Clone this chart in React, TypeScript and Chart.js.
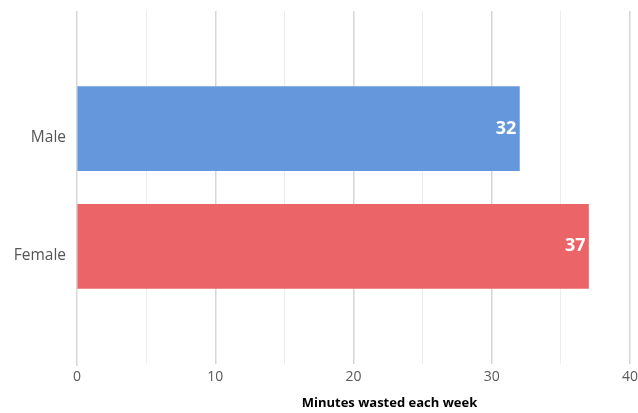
import React, { useEffect, useRef } from "react";
import { Chart, registerables } from "chart.js";

Chart.register(...registerables);

const categories = ["", "Male", "Female", ""];
const minutes = [null, 32, 37, null];
const barColors = ["#6497db", "#6497db", "#eb6568", "#eb6568"];
const xTicks = [0, 10, 20, 30, 40];
const axisTitle = "Minutes wasted each week";

const valueLabels = {
  id: "valueLabels",
  afterDatasetsDraw(chart: any) {
    const ctx = chart.ctx;
    const meta = chart.getDatasetMeta(0);
    ctx.save();
    ctx.font = "bold 18px 'Open Sans'";
    ctx.fillStyle = "#ffffff";
    ctx.textAlign = "right";
    ctx.textBaseline = "middle";
    meta.data.forEach((el: any, i: number) => {
      const v = minutes[i];
      if (v == null) return;
      ctx.fillText(String(v), el.x - 3, el.y);
    });
    ctx.restore();
  },
};

const bottomTitle = {
  id: "bottomTitle",
  afterDraw(chart: any) {
    const ctx = chart.ctx;
    const x = chart.scales.x;
    ctx.save();
    ctx.font = "bold 13px 'Open Sans'";
    ctx.fillStyle = "#000000";
    ctx.textAlign = "center";
    ctx.textBaseline = "middle";
    const cx = x.getPixelForValue(22.6);
    ctx.fillText(axisTitle, cx, chart.chartArea.bottom + 39);
    ctx.restore();
  },
};

export default function App() {
  const ref = useRef<HTMLCanvasElement>(null);
  useEffect(() => {
    const chart = new Chart(ref.current!, {
      type: "bar",
      data: {
        labels: categories,
        datasets: [
          {
            data: minutes,
            backgroundColor: barColors,
            barThickness: 84,
          },
        ],
      },
      options: {
        indexAxis: "y",
        animation: false,
        responsive: true,
        maintainAspectRatio: false,
        layout: { padding: { top: 11, right: 8, left: 0, bottom: 2 } },
        plugins: { legend: { display: false }, tooltip: { enabled: false } },
        scales: {
          x: {
            min: 0,
            max: 40,
            ticks: {
              stepSize: 5,
              color: "#595959",
              font: { family: "'Open Sans'", size: 14 },
              padding: 3,
              callback: (v: any) => (xTicks.includes(Number(v)) ? String(v) : ""),
            },
            grid: {
              color: (c: any) => (c.tick && c.tick.value % 10 === 0 ? "#d6d6d6" : "#ececec"),
              lineWidth: (c: any) => (c.tick && c.tick.value % 10 === 0 ? 1.5 : 1),
              tickLength: 2,
              tickColor: (c: any) => (c.tick && c.tick.value === 0 ? "#d6d6d6" : "rgba(0,0,0,0)"),
            },
            border: { display: false },
            afterFit: (s: any) => {
              s.height = 47;
              s.paddingLeft = 0;
              s.paddingRight = 0;
            },
          },
          y: {
            offset: false,
            ticks: {
              color: "#555555",
              font: { family: "'Open Sans'", size: 15.5 },
              padding: 11,
              labelOffset: 9,
            },
            grid: { display: false, drawTicks: false },
            border: { display: false },
            afterFit: (s: any) => {
              s.width = 77;
              s.paddingTop = 0;
              s.paddingBottom = 0;
            },
          },
        },
      },
      plugins: [valueLabels, bottomTitle],
    });
    return () => chart.destroy();
  }, []);
  return (
    <div style={{ position: "fixed", left: 0, top: 0, width: 638, height: 413, background: "#fff" }}>
      <canvas ref={ref} />
    </div>
  );
}
